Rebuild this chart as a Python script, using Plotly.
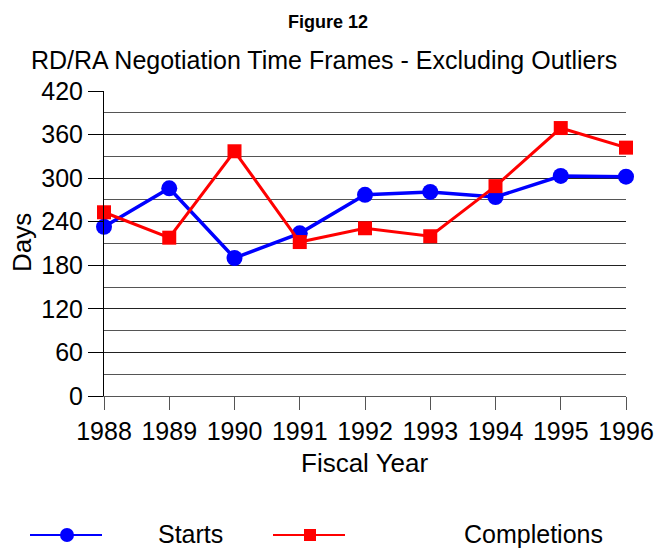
import plotly.graph_objects as go

years = [1988, 1989, 1990, 1991, 1992, 1993, 1994, 1995, 1996]
starts = [233, 286, 190, 224, 277, 281, 274, 303, 302]
completions = [253, 218, 337, 212, 231, 220, 289, 369, 342]
y_ticks = [0, 60, 120, 180, 240, 300, 360, 420]

FONT = "Liberation Sans, Arial, sans-serif"
BLUE = "#0000ff"
RED = "#ff0000"

W, H = 655, 548
L, R, T, B = 104, 29, 91, 152
W_plot = W - L - R
H_plot = H - T - B


def lx(p):
    return (p - L) / W_plot


def ly(p):
    return (H - B - p) / H_plot


fig = go.Figure()
fig.add_trace(go.Scatter(
    x=years, y=starts, name="Starts", mode="lines+markers",
    line=dict(color=BLUE, width=3.5),
    marker=dict(symbol="circle", size=16, color=BLUE),
    cliponaxis=False, showlegend=False))
fig.add_trace(go.Scatter(
    x=years, y=completions, name="Completions", mode="lines+markers",
    line=dict(color=RED, width=3),
    marker=dict(symbol="square", size=14, color=RED),
    cliponaxis=False, showlegend=False))

fig.update_layout(
    width=W, height=H,
    margin=dict(l=L, r=R, t=T, b=B, autoexpand=False),
    paper_bgcolor="white", plot_bgcolor="white",
    font=dict(family=FONT, color="black"),
    xaxis=dict(range=[1988, 1996], tickvals=years, ticktext=[str(y) for y in years],
               showgrid=False, zeroline=False, showline=True, linecolor="#555",
               ticks="outside", ticklen=13, tickcolor="#555",
               tickfont=dict(size=25, family=FONT), automargin=False),
    yaxis=dict(range=[0, 420], tickvals=y_ticks, showgrid=True, gridcolor="#222",
               gridwidth=1, zeroline=False, showline=True, linecolor="black",
               ticks="outside", ticklen=15, tickcolor="black",
               tickfont=dict(size=25, family=FONT), automargin=False,
               minor=dict(dtick=30, showgrid=True, gridcolor="#555", gridwidth=1, ticks="")),
)

ann = [
    ("<b>Figure 12</b>", 328, 22, 18, 0),
    ("RD/RA Negotiation Time Frames - Excluding Outliers", 324, 60, 25, 0),
    ("Fiscal Year", 365, 463, 26, 0),
    ("Starts", 190, 534, 25, 0),
    ("Completions", 533, 534, 25, 0),
    ("Days", 22, 243, 26, -90),
]
for text, px, py, size, ang in ann:
    fig.add_annotation(text=text, xref="paper", yref="paper",
                       x=lx(px), y=ly(py), textangle=ang,
                       xanchor="center", yanchor="middle", showarrow=False,
                       font=dict(family=FONT, color="black", size=size))

# manual legend
ly0 = 535
fig.add_shape(type="line", xref="paper", yref="paper", x0=lx(30), x1=lx(102), y0=ly(ly0), y1=ly(ly0),
              line=dict(color=BLUE, width=2))
fig.add_shape(type="circle", xref="paper", yref="paper", x0=lx(60), x1=lx(74), y0=ly(ly0 + 7), y1=ly(ly0 - 7),
              line=dict(color=BLUE, width=0), fillcolor=BLUE)
fig.add_shape(type="line", xref="paper", yref="paper", x0=lx(273), x1=lx(345), y0=ly(ly0), y1=ly(ly0),
              line=dict(color=RED, width=2))
fig.add_shape(type="rect", xref="paper", yref="paper", x0=lx(304), x1=lx(316), y0=ly(ly0 + 6), y1=ly(ly0 - 6),
              line=dict(color=RED, width=0), fillcolor=RED)

fig.write_html("out.html", config={"displayModeBar": False},
               post_script="document.body.style.margin='0px';document.body.style.overflow='hidden';")
